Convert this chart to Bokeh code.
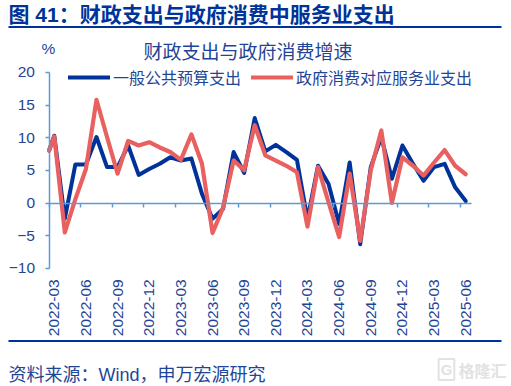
from bokeh.plotting import figure
from bokeh.embed import file_html
from bokeh.resources import INLINE
from bokeh.models import (Label, BoxAnnotation, LinearAxis, FixedTicker, Legend, LegendItem,
                          Range1d, ColumnDataSource)

title_text = "图 41\uff1a财政支出与政府消费中服务业支出"
subtitle = "财政支出与政府消费增速"
source_text = "资料来源\uff1aWind\uff0c申万宏源研究"
unit = "%"
series_names = ["一般公共预算支出", "政府消费对应服务业支出"]

months = [f"{y}-{m:02d}" for y in (2022, 2023, 2024, 2025) for m in range(1, 13)][2:42]
tick_labels = months[::3]

fiscal = [10.3, -2.4, 5.9, 5.9, 10.1, 5.5, 5.5, 8.8, 4.3, 5.2,
          6.0, 7.0, 6.5, 6.8, 1.4, -2.4, -0.9, 7.8, 4.6, 13.0,
          7.9, 8.9, 7.8, 6.6, -2.5, 5.7, 2.9, -3.2, 6.2, -6.3,
          5.5, 10.1, 3.7, 8.8, 6.0, 3.4, 5.5, 6.0, 2.4, 0.3]
services = [10.2, -4.5, 0.6, 5.2, 15.8, 10.1, 4.5, 9.5, 8.8, 9.3,
            8.5, 7.8, 6.6, 10.5, 6.0, -4.6, -0.7, 6.5, 5.0, 11.9,
            7.3, 6.5, 5.7, 4.7, -3.6, 5.5, 0.1, -5.2, 4.5, -5.8,
            5.0, 11.1, 0.0, 7.0, 5.7, 4.2, 6.2, 8.1, 5.7, 4.4]
# both lines enter the plot from the axis at this level
start_fiscal = 8.0
start_services = 8.0

BLUE = "#003399"
RED = "#E96060"
AXIS = "#5B9BD5"
TEXT = "#1F4596"
MARK = "#E2E2E2"
MIXED_FONT = "'Liberation Sans', 'Noto Sans CJK SC'"
W, H = 511, 386

# the plotting frame fills the whole canvas; these give where the axes sit in it
PX_PER_MONTH = 422 / 40
PX_PER_UNIT = 196 / 30
AXIS_LEFT_PX = 48.5
ZERO_PX = 202.5

centers = [i + 0.5 for i in range(len(months))]
src = ColumnDataSource(dict(
    x=[0.0] + centers,
    fiscal=[start_fiscal] + fiscal,
    services=[start_services] + services,
))

p = figure(width=W, height=H, output_backend="svg", toolbar_location=None,
           x_range=Range1d(-AXIS_LEFT_PX / PX_PER_MONTH, (W - AXIS_LEFT_PX) / PX_PER_MONTH),
           y_range=Range1d((ZERO_PX - H) / PX_PER_UNIT, ZERO_PX / PX_PER_UNIT),
           min_border=0, x_axis_location=None, y_axis_location=None)
p.outline_line_color = None
p.grid.visible = False
p.background_fill_color = "white"

# y axis
ya = LinearAxis(ticker=FixedTicker(ticks=list(range(-10, 21, 5))), fixed_location=0, bounds=(-10, 20))
ya.axis_line_color = AXIS
ya.axis_line_width = 1.5
ya.major_tick_line_color = AXIS
ya.major_tick_line_width = 1.5
ya.major_tick_out = 4
ya.major_tick_in = 0
ya.minor_tick_line_color = None
ya.major_label_text_color = TEXT
ya.major_label_text_font = "Liberation Sans"
ya.major_label_text_font_size = "15.5px"
ya.major_label_standoff = 10
p.add_layout(ya, "left")

# x axis line at zero with ticks between the quarters
xa = LinearAxis(ticker=FixedTicker(ticks=list(range(0, 40, 3))), fixed_location=0, bounds=(0, 40))
xa.axis_line_color = AXIS
xa.axis_line_width = 1.5
xa.major_tick_line_color = AXIS
xa.major_tick_line_width = 1.5
xa.major_tick_out = 4
xa.major_tick_in = 0
xa.minor_tick_line_color = None
xa.major_label_text_font_size = "0px"
xa.major_label_text_color = None
p.add_layout(xa, "below")

# quarter labels along the bottom
label_positions = centers[::3]
xl = LinearAxis(ticker=FixedTicker(ticks=label_positions), fixed_location=-10,
                major_label_overrides={c: t for c, t in zip(label_positions, tick_labels)})
xl.axis_line_color = None
xl.major_tick_line_color = None
xl.minor_tick_line_color = None
xl.major_label_orientation = 1.5707963
xl.major_label_text_color = TEXT
xl.major_label_text_font = "Liberation Sans"
xl.major_label_text_font_size = "15.5px"
xl.major_label_standoff = 5
p.add_layout(xl, "below")

r1 = p.line("x", "fiscal", source=src, line_color=BLUE, line_width=4, line_join="round", line_cap="round")
r2 = p.line("x", "services", source=src, line_color=RED, line_width=4.2, line_join="round", line_cap="round")

legend = Legend(items=[LegendItem(label=series_names[0], renderers=[r1]),
                       LegendItem(label=series_names[1], renderers=[r2])],
                orientation="horizontal", location=(68, 297), background_fill_alpha=0,
                border_line_color=None, glyph_width=42, glyph_height=16, spacing=10,
                label_standoff=3, margin=0, padding=0,
                label_text_font="Noto Sans CJK SC", label_text_font_size="16px",
                label_text_color=TEXT)
p.add_layout(legend)


def txt(s, x, y, size, color=TEXT, font="Noto Sans CJK SC", style="normal", align="left"):
    p.add_layout(Label(x=x, y=H - y, x_units="screen", y_units="screen", text=s,
                       text_font=font, text_font_size=size, text_color=color,
                       text_font_style=style, text_align=align, text_baseline="middle"))


def rule(y):
    p.add_layout(BoxAnnotation(left=8, right=501, top=H - (y - 1), bottom=H - (y + 1),
                               left_units="screen", right_units="screen",
                               top_units="screen", bottom_units="screen",
                               fill_color=BLUE, fill_alpha=1, line_color=None, level="overlay"))


txt(title_text, 8, 14, "21px", color=BLUE, font=MIXED_FONT, style="bold")
rule(26.5)
txt(unit, 41, 48, "15.5px", font="Liberation Sans")
txt(subtitle, 143, 50, "19px")
rule(340.5)
txt(source_text, 8, 374, "18px", font=MIXED_FONT)
txt("格隆汇", 458, 369, "16px", color=MARK, style="bold")
p.add_layout(Label(x=446, y=H - 369, x_units="screen", y_units="screen", text="G",
                   text_font="Liberation Sans", text_font_size="15px", text_font_style="bold",
                   text_color=MARK, text_align="center", text_baseline="middle",
                   border_line_color=MARK, border_line_width=2, padding=2))

open("out.html", "w").write(file_html(p, INLINE))
